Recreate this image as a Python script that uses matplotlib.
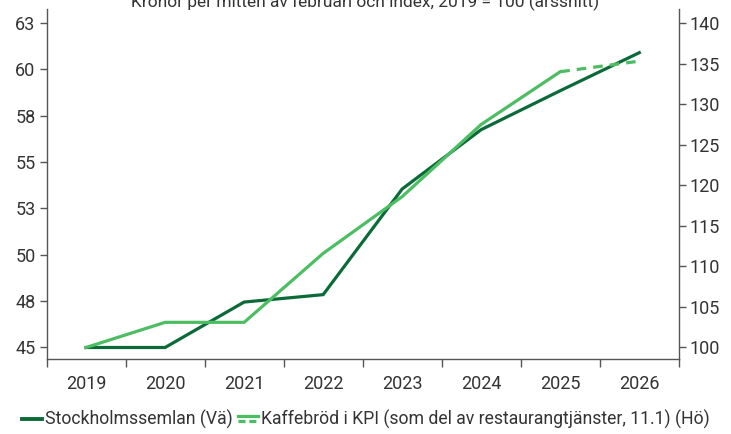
import matplotlib
matplotlib.use("Agg")
import matplotlib.pyplot as plt
from matplotlib.lines import Line2D
from matplotlib.legend_handler import HandlerBase

plt.rcParams['font.family'] = ['Roboto', 'DejaVu Sans']

years = ["2019", "2020", "2021", "2022", "2023", "2024", "2025", "2026"]
semla = [45.0, 45.0, 47.45, 47.85, 53.55, 56.75, 58.85, 60.9]          # kronor, left axis
kaffe_solid = [100.0, 103.1, 103.1, 111.6, 118.6, 127.5, 134.0]         # index 2019-2025, right axis
kaffe_dashed_years = ["2025", "2026"]
kaffe_dashed = [134.0, 135.3]

left_ticks = [45, 47.5, 50, 52.5, 55, 57.5, 60, 62.5]
left_labels = ["45", "48", "50", "53", "55", "58", "60", "63"]
right_ticks = [100, 105, 110, 115, 120, 125, 130, 135, 140]

title = "Kronor per mitten av februari och index, 2019 = 100 (årssnitt)"
label_semla = "Stockholmssemlan (Vä)"
label_kaffe = "Kaffebröd i KPI (som del av restaurangtjänster, 11.1) (Hö)"

DARK = "#0b6b38"
LIGHT = "#4dbd64"
TXT = "#333333"
SPINE = "#555555"

fig = plt.figure(figsize=(7.31, 4.34), dpi=100)
ax = fig.add_axes([0.0637, 0.172, 0.8649, 0.807])
ax2 = ax.twinx()

x = list(range(len(years)))
ax.plot(x, semla, color=DARK, lw=2.3, solid_joinstyle='miter', zorder=3)
ax2.plot(x[:len(kaffe_solid)], kaffe_solid, color=LIGHT, lw=2.3, zorder=2)
xd = [years.index(y) for y in kaffe_dashed_years]
ax2.plot(xd, kaffe_dashed, color=LIGHT, lw=2.3, ls=(0, (3, 2.2)), zorder=2)

lo, hi = 44.36, 63.25
ax.set_ylim(lo, hi)
f = 40 / 17.5
ax2.set_ylim(100 + (lo - 45) * f, 100 + (hi - 45) * f)
ax.set_xlim(-0.5, len(years) - 0.5)

ax.set_yticks(left_ticks)
ax.set_yticklabels(left_labels)
ax2.set_yticks(right_ticks)

ax.set_xticks(x)
ax.set_xticklabels(years)
ax.set_xticks([i - 0.5 for i in range(len(years) + 1)], minor=True)
ax.tick_params(axis='x', which='major', length=0, pad=11, labelsize=13, colors=TXT)
ax.tick_params(axis='x', which='minor', length=6, width=1, color=SPINE, direction='out')
ax.tick_params(axis='y', length=5, width=1, color=SPINE, labelsize=13, labelcolor=TXT, pad=3)
ax2.tick_params(axis='y', length=5, width=1, color=SPINE, labelsize=13, labelcolor=TXT, pad=3)

for a in (ax, ax2):
    a.spines['top'].set_visible(False)
    for s in ('left', 'right', 'bottom'):
        a.spines[s].set_color(SPINE)
        a.spines[s].set_linewidth(1)
ax.spines['right'].set_visible(False)
ax2.spines['left'].set_visible(False)
ax2.spines['bottom'].set_visible(False)

fig.text(0.5, 0.997, title, ha='center', va='center', fontsize=12.5, color=TXT)


class DoubleHandler(HandlerBase):
    def create_artists(self, legend, orig_handle, xdescent, ydescent, width, height, fontsize, trans):
        y1 = height * 0.72 - ydescent
        y2 = height * 0.28 - ydescent
        l1 = Line2D([-xdescent, width - xdescent], [y1, y1], color=LIGHT, lw=2.3, transform=trans)
        l2 = Line2D([-xdescent, width - xdescent], [y2, y2], color=LIGHT, lw=2.3,
                    ls=(0, (2.2, 1.2)), transform=trans)
        return [l1, l2]


h1 = Line2D([], [], color=DARK, lw=2.8)
h2 = Line2D([], [], color=LIGHT)
fig.legend([h1, h2], [label_semla, label_kaffe], loc='lower left', bbox_to_anchor=(0.008, -0.025),
           ncol=2, frameon=False, fontsize=12.7, handlelength=1.15, handletextpad=0.15,
           columnspacing=0.3, labelcolor=TXT, handler_map={h2: DoubleHandler()})

fig.savefig("out.png", dpi=100)
